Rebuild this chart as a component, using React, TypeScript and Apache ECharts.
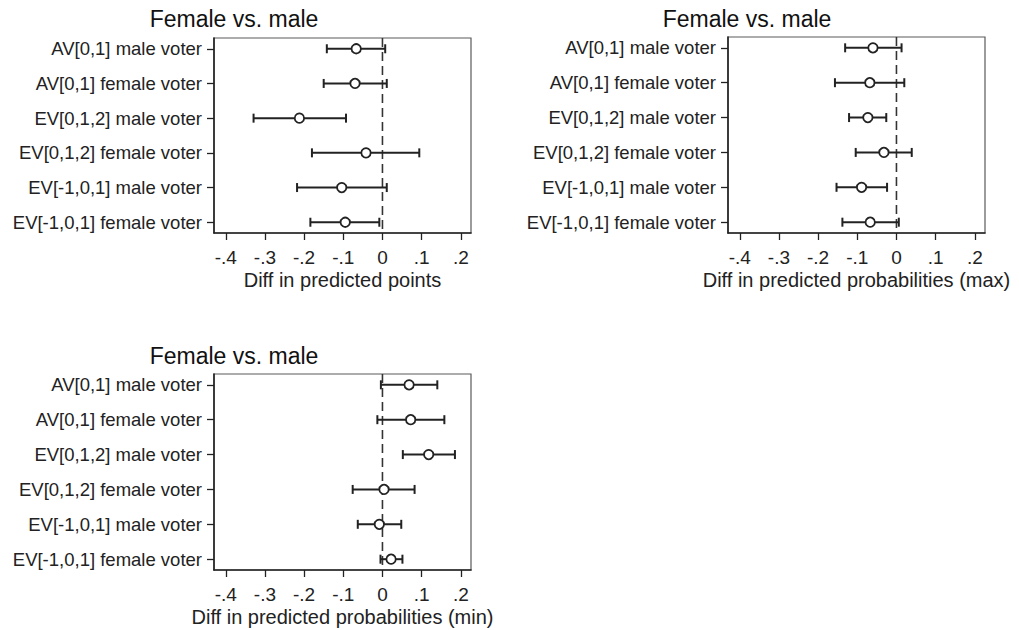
import React, { useEffect, useRef } from "react";
import * as echarts from "echarts";

const rowLabels = [
  "AV[0,1] male voter",
  "AV[0,1] female voter",
  "EV[0,1,2] male voter",
  "EV[0,1,2] female voter",
  "EV[-1,0,1] male voter",
  "EV[-1,0,1] female voter",
];
const rowPositions = [1, 2, 3, 4, 5, 6];
const xTicks = [-0.4, -0.3, -0.2, -0.1, 0, 0.1, 0.2];
const panelTitles = ["Female vs. male", "Female vs. male", "Female vs. male"];
const axisTitles = [
  "Diff in predicted points",
  "Diff in predicted probabilities (max)",
  "Diff in predicted probabilities (min)",
];

// Panel 1: predicted points
const est1 = [-0.067, -0.07, -0.212, -0.042, -0.104, -0.095];
const lo1 = [-0.142, -0.15, -0.329, -0.18, -0.218, -0.184];
const hi1 = [0.007, 0.011, -0.093, 0.094, 0.011, -0.008];

// Panel 2: predicted probabilities (max)
const est2 = [-0.06, -0.068, -0.073, -0.032, -0.089, -0.067];
const lo2 = [-0.131, -0.157, -0.121, -0.104, -0.153, -0.138];
const hi2 = [0.013, 0.02, -0.026, 0.039, -0.024, 0.006];

// Panel 3: predicted probabilities (min)
const est3 = [0.068, 0.072, 0.118, 0.004, -0.008, 0.022];
const lo3 = [-0.004, -0.013, 0.052, -0.076, -0.063, -0.005];
const hi3 = [0.14, 0.158, 0.185, 0.082, 0.048, 0.051];

const X_MIN = -0.43;
const X_MAX = 0.226;
const Y_MIN = 0.69;
const Y_MAX = 6.31;

const FONT = "'Liberation Sans', Arial, sans-serif";
const INK = "#222222";

const grids = [
  { left: 214, top: 38, width: 257, height: 195 },
  { left: 728, top: 37, width: 257, height: 196 },
  { left: 214, top: 374, width: 257, height: 196 },
];
const titlePos = [
  { x: 234, y: 19 },
  { x: 747, y: 19 },
  { x: 234, y: 356 },
];

const fmtX = (v: number) => {
  if (Math.abs(v) < 1e-9) return "0";
  const d = Math.round(Math.abs(v) * 10);
  return (v < 0 ? "-" : "") + "." + d;
};

export default function App() {
  const ref = useRef<HTMLDivElement>(null);
  useEffect(() => {
    if (!ref.current) return;
    const chart = echarts.init(ref.current, null, { renderer: "svg" });
    const panels = [
      { est: est1, lo: lo1, hi: hi1 },
      { est: est2, lo: lo2, hi: hi2 },
      { est: est3, lo: lo3, hi: hi3 },
    ];
    const xAxis: any[] = [];
    const yAxis: any[] = [];
    const series: any[] = [];
    panels.forEach((p, i) => {
      xAxis.push({
        type: "value",
        gridIndex: i,
        min: X_MIN,
        max: X_MAX,
        name: axisTitles[i],
        nameLocation: "middle",
        nameGap: 37,
        nameTextStyle: { fontFamily: FONT, fontSize: 20, color: INK },
        axisLine: { show: true, onZero: false, lineStyle: { color: INK, width: 1.6 } },
        axisTick: {
          show: true,
          length: 7,
          customValues: xTicks,
          lineStyle: { color: INK, width: 1.3 },
        },
        axisLabel: {
          customValues: xTicks,
          formatter: fmtX,
          margin: 15,
          fontFamily: FONT,
          fontSize: 19,
          color: INK,
        },
        splitLine: { show: false },
      });
      yAxis.push({
        type: "value",
        gridIndex: i,
        inverse: true,
        min: Y_MIN,
        max: Y_MAX,
        axisLine: { show: true, onZero: false, lineStyle: { color: INK, width: 1.6 } },
        axisTick: {
          show: true,
          length: 7,
          customValues: rowPositions,
          lineStyle: { color: INK, width: 1.3 },
        },
        axisLabel: {
          customValues: rowPositions,
          formatter: (v: number) => rowLabels[Math.round(v) - 1] ?? "",
          margin: 12,
          fontFamily: FONT,
          fontSize: 18.5,
          color: INK,
        },
        splitLine: { show: false },
      });
      series.push({
        type: "line",
        xAxisIndex: i,
        yAxisIndex: i,
        data: [
          [0, Y_MIN],
          [0, Y_MAX],
        ],
        symbol: "none",
        silent: true,
        lineStyle: { color: "#333333", width: 1.6, type: [9, 5] },
        z: 1,
      });
      series.push({
        type: "custom",
        xAxisIndex: i,
        yAxisIndex: i,
        encode: { x: [1, 2, 3], y: 0 },
        data: rowPositions.map((r, k) => [r, p.lo[k], p.hi[k], p.est[k]]),
        z: 3,
        renderItem: (params: any, api: any) => {
          const y = api.value(0);
          const a = api.coord([api.value(1), y]);
          const b = api.coord([api.value(2), y]);
          const c = api.coord([api.value(3), y]);
          const cap = 4.5;
          const st = { stroke: INK, lineWidth: 2, fill: "none" };
          return {
            type: "group",
            children: [
              { type: "line", shape: { x1: a[0], y1: a[1], x2: b[0], y2: b[1] }, style: st },
              { type: "line", shape: { x1: a[0], y1: a[1] - cap, x2: a[0], y2: a[1] + cap }, style: st },
              { type: "line", shape: { x1: b[0], y1: b[1] - cap, x2: b[0], y2: b[1] + cap }, style: st },
              {
                type: "circle",
                shape: { cx: c[0], cy: c[1], r: 4.7 },
                style: { stroke: INK, lineWidth: 1.8, fill: "#ffffff" },
              },
            ],
          };
        },
      });
    });
    chart.setOption({
      animation: false,
      backgroundColor: "#ffffff",
      grid: grids.map((g) => ({
        ...g,
        show: true,
        borderColor: "#5a5a5a",
        borderWidth: 1.2,
        backgroundColor: "transparent",
      })),
      xAxis,
      yAxis,
      series,
      graphic: titlePos.map((t, i) => ({
        type: "text",
        x: t.x,
        y: t.y,
        style: {
          text: panelTitles[i],
          fontFamily: FONT,
          fontSize: 23,
          fill: "#111",
          align: "center",
          verticalAlign: "middle",
        },
      })),
    });
    return () => chart.dispose();
  }, []);
  return (
    <div
      ref={ref}
      style={{ position: "fixed", left: 0, top: 0, width: 1019, height: 630, background: "#fff" }}
    />
  );
}
